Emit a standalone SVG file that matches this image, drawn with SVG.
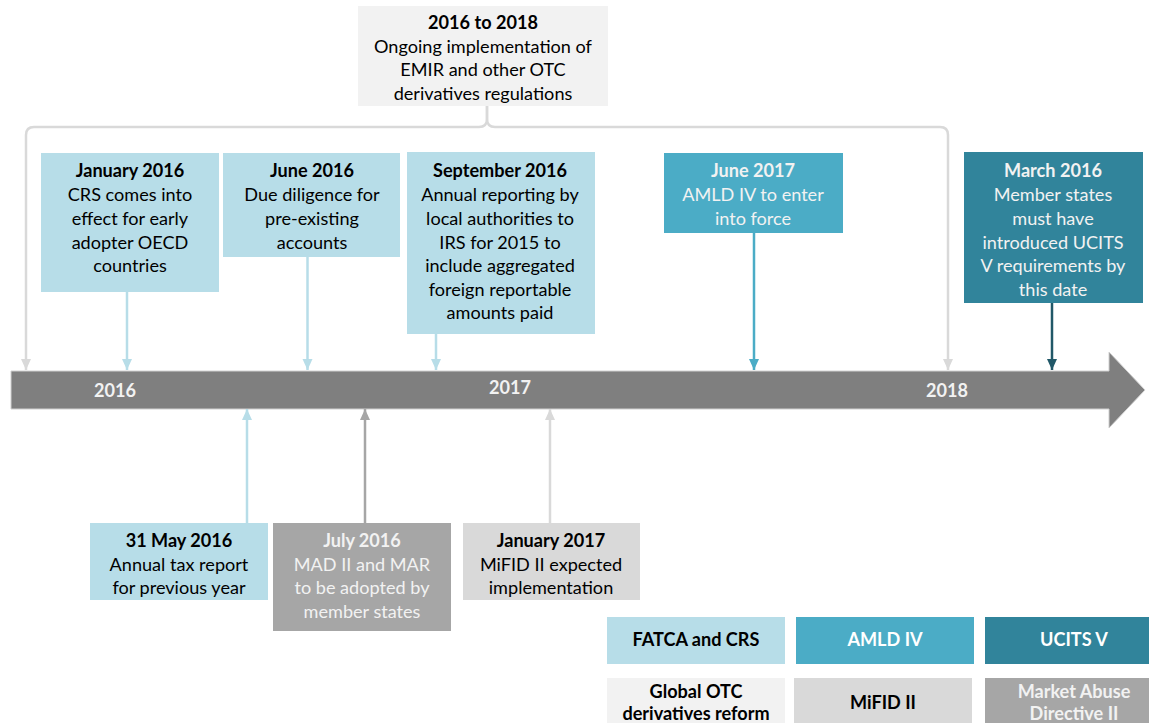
<svg xmlns="http://www.w3.org/2000/svg" width="1149" height="723" viewBox="0 0 1149 723">
<style>
text{font-family:Lato,"Carlito","Open Sans","Liberation Sans",sans-serif;font-size:18.1px;text-anchor:middle}
.b{font-weight:bold}
.k{fill:#000}
.w{fill:#ffffff}
.g{fill:#f2f2f2}
.lbl{font-weight:bold;fill:#f2f2f2}
.c1{fill:#b7dde8}.c2{fill:#4bacc6}.c3{fill:#31849b}.c4{fill:#f2f2f2}.c5{fill:#d9d9d9}.c6{fill:#a6a6a6}
.con{fill:none;stroke-width:2.5}
</style>
<defs>
<marker id="a1" markerUnits="userSpaceOnUse" markerWidth="12" markerHeight="12" refX="11" refY="6" orient="auto" viewBox="0 0 12 12"><path d="M0,1 L11,6 L0,11 Z" fill="#b7dde8"/></marker>
<marker id="a2" markerUnits="userSpaceOnUse" markerWidth="12" markerHeight="12" refX="11" refY="6" orient="auto" viewBox="0 0 12 12"><path d="M0,1 L11,6 L0,11 Z" fill="#4bacc6"/></marker>
<marker id="a3" markerUnits="userSpaceOnUse" markerWidth="12" markerHeight="12" refX="11" refY="6" orient="auto" viewBox="0 0 12 12"><path d="M0,1 L11,6 L0,11 Z" fill="#215868"/></marker>
<marker id="a5" markerUnits="userSpaceOnUse" markerWidth="12" markerHeight="12" refX="11" refY="6" orient="auto" viewBox="0 0 12 12"><path d="M0,1 L11,6 L0,11 Z" fill="#d9d9d9"/></marker>
<marker id="a6" markerUnits="userSpaceOnUse" markerWidth="12" markerHeight="12" refX="11" refY="6" orient="auto" viewBox="0 0 12 12"><path d="M0,1 L11,6 L0,11 Z" fill="#a6a6a6"/></marker>
</defs>

<g id="timeline">
<path d="M11,371 H1109 V352 L1145,390 L1109,428 V409 H11 Z" fill="#7f7f7f" stroke="#d0d0d0" stroke-width="1"/>
<text class="lbl" x="115" y="397">2016</text>
<text class="lbl" x="510" y="394">2017</text>
<text class="lbl" x="947" y="397">2018</text>
</g>

<g id="connectors">
<path class="con" stroke="#d9d9d9" stroke-width="3" d="M487,106 V119 Q487,127 479,127 H34 Q26,127 26,135 V370" marker-end="url(#a5)"/>
<path class="con" stroke="#d9d9d9" stroke-width="3" d="M487,106 V119 Q487,127 495,127 H940 Q948,127 948,135 V370" marker-end="url(#a5)"/>
<path class="con" stroke="#b7dde8" d="M127,292 V370" marker-end="url(#a1)"/>
<path class="con" stroke="#b7dde8" d="M307.5,257 V370" marker-end="url(#a1)"/>
<path class="con" stroke="#b7dde8" d="M436,334 V370" marker-end="url(#a1)"/>
<path class="con" stroke="#4bacc6" d="M754,233 V370" marker-end="url(#a2)"/>
<path class="con" stroke="#215868" d="M1052,303 V370" marker-end="url(#a3)"/>
<path class="con" stroke="#b7dde8" d="M247,523 V409" marker-end="url(#a1)"/>
<path class="con" stroke="#a6a6a6" d="M365,523 V409" marker-end="url(#a6)"/>
<path class="con" stroke="#d9d9d9" d="M550,523 V409" marker-end="url(#a5)"/>
</g>

<g id="n-2016-2018">
<rect class="c4" x="358" y="6" width="250" height="100"/>
<text class="k"><tspan class="b" x="483" y="29">2016 to 2018</tspan><tspan x="483" y="53">Ongoing implementation of</tspan><tspan x="483" y="76">EMIR and other OTC</tspan><tspan x="483" y="100">derivatives regulations</tspan></text>
</g>

<g id="n-jan2016">
<rect class="c1" x="41" y="153" width="178" height="139"/>
<text class="k"><tspan class="b" x="130" y="177">January 2016</tspan><tspan x="130" y="201">CRS comes into</tspan><tspan x="130" y="225">effect for early</tspan><tspan x="130" y="249">adopter OECD</tspan><tspan x="130" y="272">countries</tspan></text>
</g>

<g id="n-jun2016">
<rect class="c1" x="223" y="153" width="177" height="104"/>
<text class="k"><tspan class="b" x="312" y="177">June 2016</tspan><tspan x="312" y="201">Due diligence for</tspan><tspan x="312" y="225">pre-existing</tspan><tspan x="312" y="249">accounts</tspan></text>
</g>

<g id="n-sep2016">
<rect class="c1" x="407" y="152" width="188" height="182"/>
<text class="k"><tspan class="b" x="500" y="177">September 2016</tspan><tspan x="500" y="201">Annual reporting by</tspan><tspan x="500" y="225">local authorities to</tspan><tspan x="500" y="249">IRS for 2015 to</tspan><tspan x="500" y="272">include aggregated</tspan><tspan x="500" y="296">foreign reportable</tspan><tspan x="500" y="319">amounts paid</tspan></text>
</g>

<g id="n-jun2017">
<rect class="c2" x="664" y="153" width="179" height="80"/>
<text class="g"><tspan class="b" x="753" y="177">June 2017</tspan><tspan x="753" y="201">AMLD IV to enter</tspan><tspan x="753" y="225">into force</tspan></text>
</g>

<g id="n-mar2016">
<rect class="c3" x="964" y="152" width="179" height="151"/>
<text class="g"><tspan class="b" x="1053" y="177">March 2016</tspan><tspan x="1053" y="201">Member states</tspan><tspan x="1053" y="225">must have</tspan><tspan x="1053" y="249">introduced UCITS</tspan><tspan x="1053" y="272">V requirements by</tspan><tspan x="1053" y="296">this date</tspan></text>
</g>

<g id="n-may2016">
<rect class="c1" x="90" y="523" width="178" height="77"/>
<text class="k"><tspan class="b" x="179" y="547">31 May 2016</tspan><tspan x="179" y="571">Annual tax report</tspan><tspan x="179" y="594">for previous year</tspan></text>
</g>

<g id="n-jul2016">
<rect class="c6" x="273" y="523" width="178" height="108"/>
<text class="g"><tspan class="b" x="362" y="547">July 2016</tspan><tspan x="362" y="571">MAD II and MAR</tspan><tspan x="362" y="594">to be adopted by</tspan><tspan x="362" y="618">member states</tspan></text>
</g>

<g id="n-jan2017">
<rect class="c5" x="463" y="523" width="177" height="77"/>
<text class="k"><tspan class="b" x="551" y="547">January 2017</tspan><tspan x="551" y="571">MiFID II expected</tspan><tspan x="551" y="594">implementation</tspan></text>
</g>

<g id="legend-fatca">
<rect class="c1" x="607" y="617" width="178" height="47"/>
<text class="k b" x="696" y="646">FATCA and CRS</text>
</g>
<g id="legend-amld">
<rect class="c2" x="796" y="617" width="178" height="47"/>
<text class="w b" x="885" y="646">AMLD IV</text>
</g>
<g id="legend-ucits">
<rect class="c3" x="985" y="617" width="178" height="47"/>
<text class="w b" x="1074" y="646">UCITS V</text>
</g>
<g id="legend-otc">
<rect class="c4" x="607" y="678" width="178" height="47"/>
<text class="k b"><tspan x="696" y="698">Global OTC</tspan><tspan x="696" y="720">derivatives reform</tspan></text>
</g>
<g id="legend-mifid">
<rect class="c5" x="794" y="678" width="178" height="47"/>
<text class="k b" x="883" y="709">MiFID II</text>
</g>
<g id="legend-mad">
<rect class="c6" x="985" y="678" width="178" height="47"/>
<text class="g b"><tspan x="1074" y="698">Market Abuse</tspan><tspan x="1074" y="720">Directive II</tspan></text>
</g>
</svg>
